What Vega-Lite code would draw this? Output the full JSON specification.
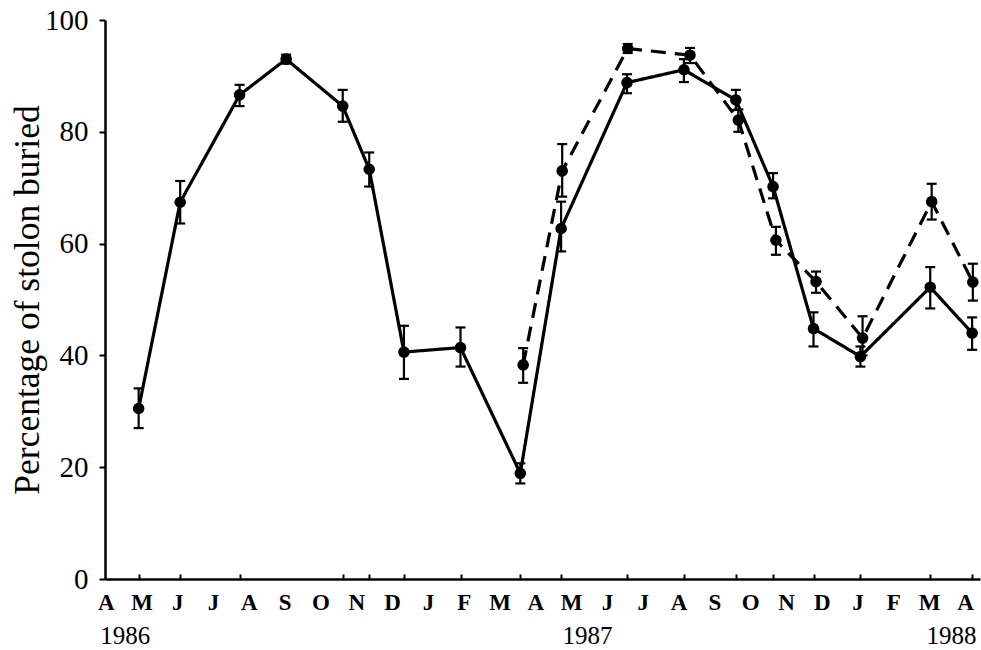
{
  "$schema": "https://vega.github.io/schema/vega-lite/v6.json",
  "width": 875,
  "height": 559,
  "autosize": {"type": "none"},
  "padding": {"left": 105, "top": 20, "right": 1, "bottom": 71},
  "background": "white",
  "config": {
    "view": {"stroke": null},
    "font": "Liberation Serif",
    "axis": {"grid": false}
  },
  "data": {
    "values": [
      {"group": "1", "month": 0.92, "pct": 30.5, "lo": 27.0, "hi": 34.1},
      {"group": "1", "month": 2.08, "pct": 67.4, "lo": 63.6, "hi": 71.2},
      {"group": "1", "month": 3.74, "pct": 86.6, "lo": 84.6, "hi": 88.4},
      {"group": "1", "month": 5.04, "pct": 93.0, "lo": 92.2, "hi": 93.8},
      {"group": "1", "month": 6.62, "pct": 84.6, "lo": 81.8, "hi": 87.5},
      {"group": "1", "month": 7.36, "pct": 73.3, "lo": 70.2, "hi": 76.3},
      {"group": "1", "month": 8.33, "pct": 40.6, "lo": 35.8, "hi": 45.3},
      {"group": "1", "month": 9.91, "pct": 41.4, "lo": 38.0, "hi": 45.0},
      {"group": "1", "month": 11.58, "pct": 18.9, "lo": 17.1, "hi": 20.7},
      {"group": "1", "month": 12.72, "pct": 62.7, "lo": 58.6, "hi": 67.5},
      {"group": "1", "month": 14.56, "pct": 88.8, "lo": 86.9, "hi": 90.3},
      {"group": "1", "month": 16.15, "pct": 91.1, "lo": 88.9, "hi": 93.0},
      {"group": "1", "month": 17.6, "pct": 85.7, "lo": 83.9, "hi": 87.5},
      {"group": "1", "month": 18.64, "pct": 70.2, "lo": 68.1, "hi": 72.6},
      {"group": "1", "month": 19.77, "pct": 44.8, "lo": 41.6, "hi": 47.7},
      {"group": "1", "month": 21.08, "pct": 39.8, "lo": 38.0, "hi": 41.6},
      {"group": "1", "month": 23.03, "pct": 52.2, "lo": 48.4, "hi": 55.8},
      {"group": "1", "month": 24.2, "pct": 44.0, "lo": 41.0, "hi": 46.8},
      {"group": "2", "month": 11.66, "pct": 38.3, "lo": 35.1, "hi": 41.3},
      {"group": "2", "month": 12.75, "pct": 73.0, "lo": 68.4, "hi": 77.8},
      {"group": "2", "month": 14.58, "pct": 94.9, "lo": 94.1, "hi": 95.7},
      {"group": "2", "month": 16.32, "pct": 93.7, "lo": 92.3, "hi": 95.0},
      {"group": "2", "month": 17.67, "pct": 82.1, "lo": 80.0, "hi": 84.0},
      {"group": "2", "month": 18.72, "pct": 60.6, "lo": 58.0, "hi": 63.0},
      {"group": "2", "month": 19.84, "pct": 53.2, "lo": 51.2, "hi": 55.0},
      {"group": "2", "month": 21.14, "pct": 43.1, "lo": 40.0, "hi": 47.0},
      {"group": "2", "month": 23.07, "pct": 67.5, "lo": 64.3, "hi": 70.7},
      {"group": "2", "month": 24.22, "pct": 53.1, "lo": 49.8, "hi": 56.4}
    ]
  },
  "resolve": {"axis": {"x": "independent"}},
  "layer": [
    {
      "mark": {"type": "line", "color": "black", "strokeWidth": 3.2, "strokeJoin": "round"},
      "encoding": {
        "x": {
          "field": "month",
          "type": "quantitative",
          "scale": {"domain": [-0.02, 24.42]},
          "axis": {
            "orient": "bottom",
            "values": [0, 1, 2, 3, 4, 5, 6, 7, 8, 9, 10, 11, 12, 13, 14, 15, 16, 17, 18, 19, 20, 21, 22, 23, 24],
            "labelExpr": "['A','M','J','J','A','S','O','N','D','J','F','M'][datum.value % 12]",
            "domain": false,
            "ticks": false,
            "labelFont": "Liberation Serif",
            "labelFontSize": 23,
            "labelFontWeight": "bold",
            "labelColor": "black",
            "labelBaseline": "alphabetic",
            "labelPadding": 30,
            "labelFlush": false,
            "labelOverlap": false,
            "labelBound": false,
            "title": null
          }
        },
        "y": {
          "field": "pct",
          "type": "quantitative",
          "title": "Percentage of stolon buried",
          "scale": {"domain": [0, 100]},
          "axis": {
            "values": [0, 20, 40, 60, 80, 100],
            "domainColor": "black",
            "domainWidth": 2.5,
            "tickColor": "black",
            "tickWidth": 2,
            "tickSize": 6,
            "labelFont": "Liberation Serif",
            "labelFontSize": 29,
            "labelColor": "black",
            "labelPadding": 11,
            "titleFont": "Liberation Serif",
            "titleFontSize": 35.5,
            "titleFontWeight": "normal",
            "titleColor": "black",
            "titleBaseline": "alphabetic",
            "titlePadding": 6
          }
        },
        "strokeDash": {
          "field": "group",
          "type": "nominal",
          "scale": {"domain": ["1", "2"], "range": [[1, 0], [15, 9]]},
          "legend": null
        }
      }
    },
    {
      "mark": {"type": "errorbar", "color": "black", "opacity": 1, "thickness": 2.2, "size": 10, "ticks": true},
      "encoding": {
        "x": {
          "field": "month",
          "type": "quantitative",
          "scale": {"domain": [-0.02, 24.42]},
          "axis": {
            "orient": "bottom",
            "values": [0.92, 2.08, 3.74, 6.62, 7.36, 8.33, 9.91, 11.58, 12.72, 14.56, 16.15, 17.6, 18.64, 19.77, 21.08, 23.03, 24.2],
            "labels": false,
            "ticks": true,
            "tickSize": -5,
            "tickWidth": 2,
            "tickColor": "black",
            "domain": true,
            "domainColor": "black",
            "domainWidth": 2.5,
            "title": null
          }
        },
        "y": {
          "field": "lo",
          "type": "quantitative",
          "title": "Percentage of stolon buried",
          "scale": {"domain": [0, 100]}
        },
        "y2": {"field": "hi"}
      }
    },
    {
      "mark": {"type": "point", "filled": true, "shape": "circle", "size": 135, "color": "black", "opacity": 1},
      "encoding": {
        "x": {
          "field": "month",
          "type": "quantitative",
          "scale": {"domain": [-0.02, 24.42]},
          "axis": {
            "orient": "bottom",
            "values": [0.53, 13.44, 23.61],
            "labelExpr": "datum.value < 1 ? '1986' : datum.value < 20 ? '1987' : '1988'",
            "domain": false,
            "ticks": false,
            "labelFont": "Liberation Serif",
            "labelFontSize": 25,
            "labelColor": "black",
            "labelBaseline": "alphabetic",
            "labelPadding": 64,
            "labelFlush": false,
            "labelOverlap": false,
            "labelBound": false,
            "title": null
          }
        },
        "y": {
          "field": "pct",
          "type": "quantitative",
          "title": "Percentage of stolon buried",
          "scale": {"domain": [0, 100]}
        }
      }
    }
  ]
}
